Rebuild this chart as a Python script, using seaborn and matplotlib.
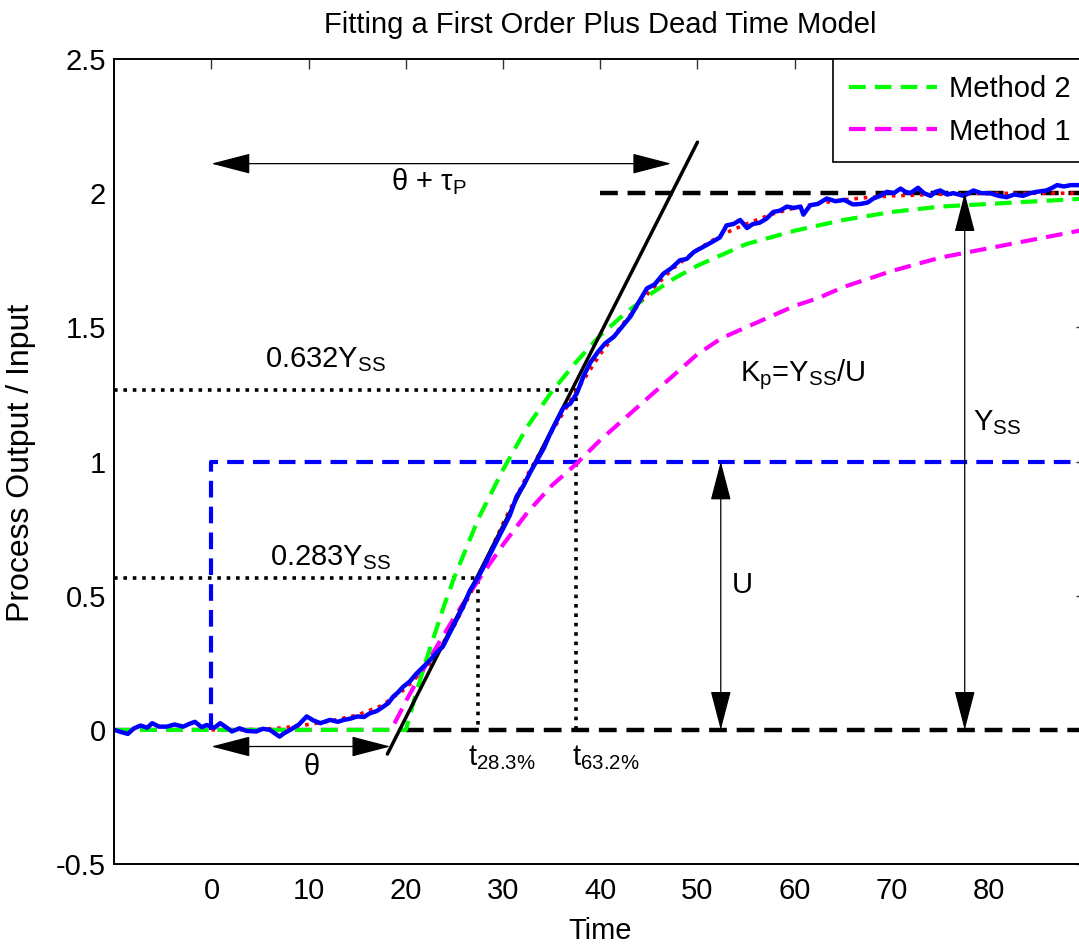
import seaborn as sns
import matplotlib.pyplot as plt
from matplotlib.lines import Line2D

# ---- Data ----
# measured (noisy) process output
blue_t = [-10.0, -9.3, -8.6, -8.0, -7.3, -6.6, -6.1, -5.4, -4.6, -3.8, -2.9, -2.3, -1.7, -1.0, -0.5,
          0.3, 0.9, 1.5, 2.1, 2.9, 3.6, 4.6, 5.3, 6.0, 7.0, 7.5, 8.1, 9.0, 9.8, 10.5, 11.2, 12.2,
          13.0, 13.6, 14.3, 15.0, 15.7, 16.3, 17.0, 17.7, 18.2, 18.7, 19.2, 19.7, 20.4, 21.1, 21.8,
          22.5, 23.2, 23.8, 24.5, 25.2, 25.9, 26.6, 27.4, 27.9, 28.6, 29.3, 30.0, 30.7, 31.4, 32.1,
          32.8, 33.5, 34.2, 34.8, 35.5, 36.2, 36.9, 37.6, 38.3, 39.0, 39.8, 40.5, 41.4, 42.2, 43.1,
          43.9, 44.8, 45.6, 46.5, 47.3, 48.2, 48.9, 49.6, 50.6, 51.6, 52.3, 53.0, 53.7, 54.4, 55.1,
          55.7, 56.4, 57.1, 57.8, 58.5, 59.2, 59.9, 60.6, 60.9, 61.6, 62.4, 63.3, 64.2, 65.1, 66.0,
          66.8, 67.5, 68.1, 68.8, 69.5, 70.2, 70.9, 71.4, 71.9, 72.7, 73.3, 74.0, 74.5, 75.0, 75.7,
          76.3, 76.9, 77.4, 77.9, 78.4, 79.2, 80.1, 81.0, 81.8, 82.6, 83.5, 84.2, 84.9, 85.9, 86.5,
          87.0, 87.7, 88.4, 89.2, 90.0]
blue_y = [0.000, -0.008, -0.015, 0.005, 0.016, 0.008, 0.025, 0.012, 0.012, 0.020, 0.012, 0.022,
          0.030, 0.010, 0.018, 0.008, 0.025, 0.010, -0.006, 0.006, -0.004, -0.006, 0.004, 0.000,
          -0.025, -0.012, 0.000, 0.020, 0.050, 0.035, 0.025, 0.037, 0.030, 0.037, 0.042, 0.050,
          0.048, 0.062, 0.070, 0.087, 0.100, 0.124, 0.140, 0.160, 0.180, 0.210, 0.235, 0.260,
          0.290, 0.310, 0.360, 0.410, 0.460, 0.520, 0.566, 0.600, 0.650, 0.700, 0.750, 0.800,
          0.870, 0.910, 0.960, 1.005, 1.050, 1.100, 1.150, 1.200, 1.215, 1.255, 1.320, 1.370,
          1.410, 1.440, 1.465, 1.500, 1.540, 1.590, 1.645, 1.660, 1.700, 1.720, 1.750, 1.755,
          1.780, 1.800, 1.820, 1.835, 1.880, 1.885, 1.900, 1.870, 1.885, 1.890, 1.905, 1.930,
          1.935, 1.950, 1.945, 1.950, 1.920, 1.955, 1.960, 1.980, 1.970, 1.975, 1.958, 1.960,
          1.965, 1.980, 1.990, 2.005, 2.000, 2.017, 2.005, 2.000, 2.020, 2.000, 1.990, 2.005,
          2.010, 1.995, 2.000, 1.995, 1.990, 2.000, 2.010, 2.000, 2.000, 1.990, 1.985, 1.995,
          1.990, 2.000, 2.005, 2.010, 2.020, 2.030, 2.025, 2.030, 2.030, 2.035]

# underlying process response (red dotted)
red_t = [0, 2.5, 5, 7.5, 10, 12.5, 15, 17.5, 20, 22.5, 25, 27.5, 30, 32.5, 35, 37.5, 40, 42.5,
         45, 47.5, 50, 52.5, 55, 57.5, 60, 62.5, 65, 67.5, 70, 75, 80, 85, 90]
red_y = [0, 0, 0.002, 0.008, 0.02, 0.035, 0.055, 0.09, 0.155, 0.25, 0.39, 0.57, 0.77, 0.95, 1.11,
         1.26, 1.40, 1.52, 1.63, 1.72, 1.79, 1.845, 1.885, 1.92, 1.945, 1.962, 1.975, 1.984, 1.99,
         1.996, 1.999, 2.0, 2.0]

# Method 2 fit (green)
m2_t = [-10, 20, 21, 22, 23, 24, 25, 27.5, 30, 32.5, 35, 37.5, 40, 42.5, 45, 47.5, 50, 55, 60,
        65, 70, 75, 80, 85, 90]
m2_y = [0, 0, 0.13, 0.25, 0.36, 0.47, 0.57, 0.79, 0.97, 1.13, 1.26, 1.37, 1.47, 1.55, 1.62, 1.68,
        1.73, 1.81, 1.86, 1.90, 1.93, 1.95, 1.96, 1.97, 1.98]

# Method 1 fit (magenta)
m1_t = [-10, 18.5, 20, 22.5, 25, 27.5, 30, 32.5, 35, 37.5, 40, 42.5, 45, 47.5, 50, 52.5, 55,
        57.5, 60, 62.5, 65, 70, 75, 80, 85, 90]
m1_y = [0, 0, 0.107, 0.27, 0.42, 0.56, 0.69, 0.81, 0.91, 0.99, 1.08, 1.16, 1.24, 1.32, 1.40, 1.46,
        1.50, 1.54, 1.58, 1.61, 1.65, 1.71, 1.76, 1.795, 1.83, 1.865]

# step input and construction lines
input_t = [0, 0, 90]
input_y = [0, 1, 1]
tangent_t = [18.1, 50.0]
tangent_y = [-0.09, 2.19]
y_ss = 2.0
t_y0_line = [20, 90]
t_yss_line = [40, 90]
y632, t632 = 1.265, 37.5
y283, t283 = 0.566, 27.4
theta = 18.4
theta_tau = 47.3

x_ticks = [0, 10, 20, 30, 40, 50, 60, 70, 80]
y_ticks = [-0.5, 0, 0.5, 1, 1.5, 2, 2.5]
y_tick_labels = ["-0.5", "0", "0.5", "1", "1.5", "2", "2.5"]

# ---- Style ----
sns.set_theme(style="white")
plt.rcParams["font.family"] = ["Liberation Sans", "DejaVu Sans"]
plt.rcParams["mathtext.fontset"] = "custom"
plt.rcParams["mathtext.rm"] = "Liberation Sans"
for key in ["text.color", "axes.labelcolor", "xtick.color", "ytick.color"]:
    plt.rcParams[key] = "black"
FS = 21

fig = plt.figure(figsize=(10.79, 9.47), dpi=100)
ax = fig.add_axes([0.1059, 0.0876, 0.9008, 0.8501])

dash = (0, (4, 2.2))
dot = (0, (1, 1.6))

# reference / construction lines
sns.lineplot(x=input_t, y=input_y, ax=ax, color="#0000ff", lw=3, linestyle=dash,
             estimator=None, sort=False)
sns.lineplot(x=t_y0_line, y=[0, 0], ax=ax, color="black", lw=3.2, linestyle=dash,
             estimator=None, sort=False)
sns.lineplot(x=t_yss_line, y=[y_ss, y_ss], ax=ax, color="black", lw=3.2, linestyle=dash,
             estimator=None, sort=False)
sns.lineplot(x=[-10, t632, t632], y=[y632, y632, 0], ax=ax, color="black", lw=2.6,
             linestyle=dot, estimator=None, sort=False)
sns.lineplot(x=[-10, t283, t283], y=[y283, y283, 0], ax=ax, color="black", lw=2.6,
             linestyle=dot, estimator=None, sort=False)

# model curves
sns.lineplot(x=red_t, y=red_y, ax=ax, color="red", lw=2.6, linestyle=dot,
             estimator=None, sort=False)
sns.lineplot(x=m1_t, y=m1_y, ax=ax, color="#ff00ff", lw=3, linestyle=dash,
             estimator=None, sort=False)
sns.lineplot(x=m2_t, y=m2_y, ax=ax, color="#00ff00", lw=3, linestyle=dash,
             estimator=None, sort=False)
sns.lineplot(x=tangent_t, y=tangent_y, ax=ax, color="black", lw=2.5,
             estimator=None, sort=False)
sns.lineplot(x=blue_t, y=blue_y, ax=ax, color="#0000ff", lw=3.2,
             estimator=None, sort=False)

# ---- Annotations ----
arrow = dict(arrowstyle="<|-|>,head_length=1.0,head_width=0.26", mutation_scale=25,
             lw=0.9, color="black", shrinkA=0, shrinkB=0)
ax.annotate("", xy=(theta_tau, 2.11), xytext=(0, 2.11), arrowprops=arrow)
ax.annotate("", xy=(theta, -0.062), xytext=(0, -0.062), arrowprops=arrow)
ax.annotate("", xy=(52.4, 1.0), xytext=(52.4, 0), arrowprops=arrow)
ax.annotate("", xy=(77.5, y_ss), xytext=(77.5, 0), arrowprops=arrow)

ax.text(18.5, 2.011, r"θ + τ$_\mathregular{P}$", fontsize=FS, va="baseline")
ax.text(10.3, -0.168, "θ", fontsize=FS, ha="center", va="baseline")
ax.text(5.5, 1.352, r"0.632Y$_\mathregular{SS}$", fontsize=FS, va="baseline")
ax.text(6.0, 0.615, r"0.283Y$_\mathregular{SS}$", fontsize=FS, va="baseline")
ax.text(26.4, -0.13, r"t$_\mathregular{28.3\%}$", fontsize=FS, va="baseline")
ax.text(37.1, -0.13, r"t$_\mathregular{63.2\%}$", fontsize=FS, va="baseline")
ax.text(54.4, 1.30, r"K$_\mathregular{p}$=Y$_\mathregular{SS}$/U", fontsize=FS, va="baseline")
ax.text(53.5, 0.51, "U", fontsize=FS, va="baseline")
ax.text(78.4, 1.117, r"Y$_\mathregular{SS}$", fontsize=FS, va="baseline")

# ---- Axes ----
ax.set_xlim(-10, 90)
ax.set_ylim(-0.5, 2.5)
ax.set_xticks(x_ticks)
ax.set_xticklabels([str(v) for v in x_ticks])
ax.set_yticks(y_ticks)
ax.set_yticklabels(y_tick_labels)
ax.tick_params(direction="in", length=7, width=1, top=True, right=True,
               labelsize=FS, color="#333333", labelcolor="black")
ax.tick_params(axis="x", pad=9.5)
ax.tick_params(axis="y", pad=6)
for s in ax.spines.values():
    s.set_color("black")
    s.set_linewidth(1.4)

ax.set_xlabel("Time", fontsize=FS)
ax.xaxis.set_label_coords(0.5, -0.066)
ax.set_ylabel("Process Output / Input", fontsize=FS + 2)
ax.yaxis.set_label_coords(-0.081, 0.498)
ax.text(0.5, 1.032, "Fitting a First Order Plus Dead Time Model", transform=ax.transAxes,
        ha="center", va="baseline", fontsize=FS)

handles = [Line2D([], [], color="#00ff00", lw=3, linestyle=dash),
           Line2D([], [], color="#ff00ff", lw=3, linestyle=dash)]
leg = ax.legend(handles, ["Method 2", "Method 1"], loc="upper right", bbox_to_anchor=(1, 1),
                borderaxespad=0, fontsize=FS, frameon=True, fancybox=False, framealpha=1,
                edgecolor="black", handlelength=3.0, handletextpad=0.4, borderpad=0.55)
leg.get_frame().set_linewidth(1.2)
for txt in leg.get_texts():
    txt.set_color("black")

fig.savefig("out.png", dpi=100)
plt.close(fig)
